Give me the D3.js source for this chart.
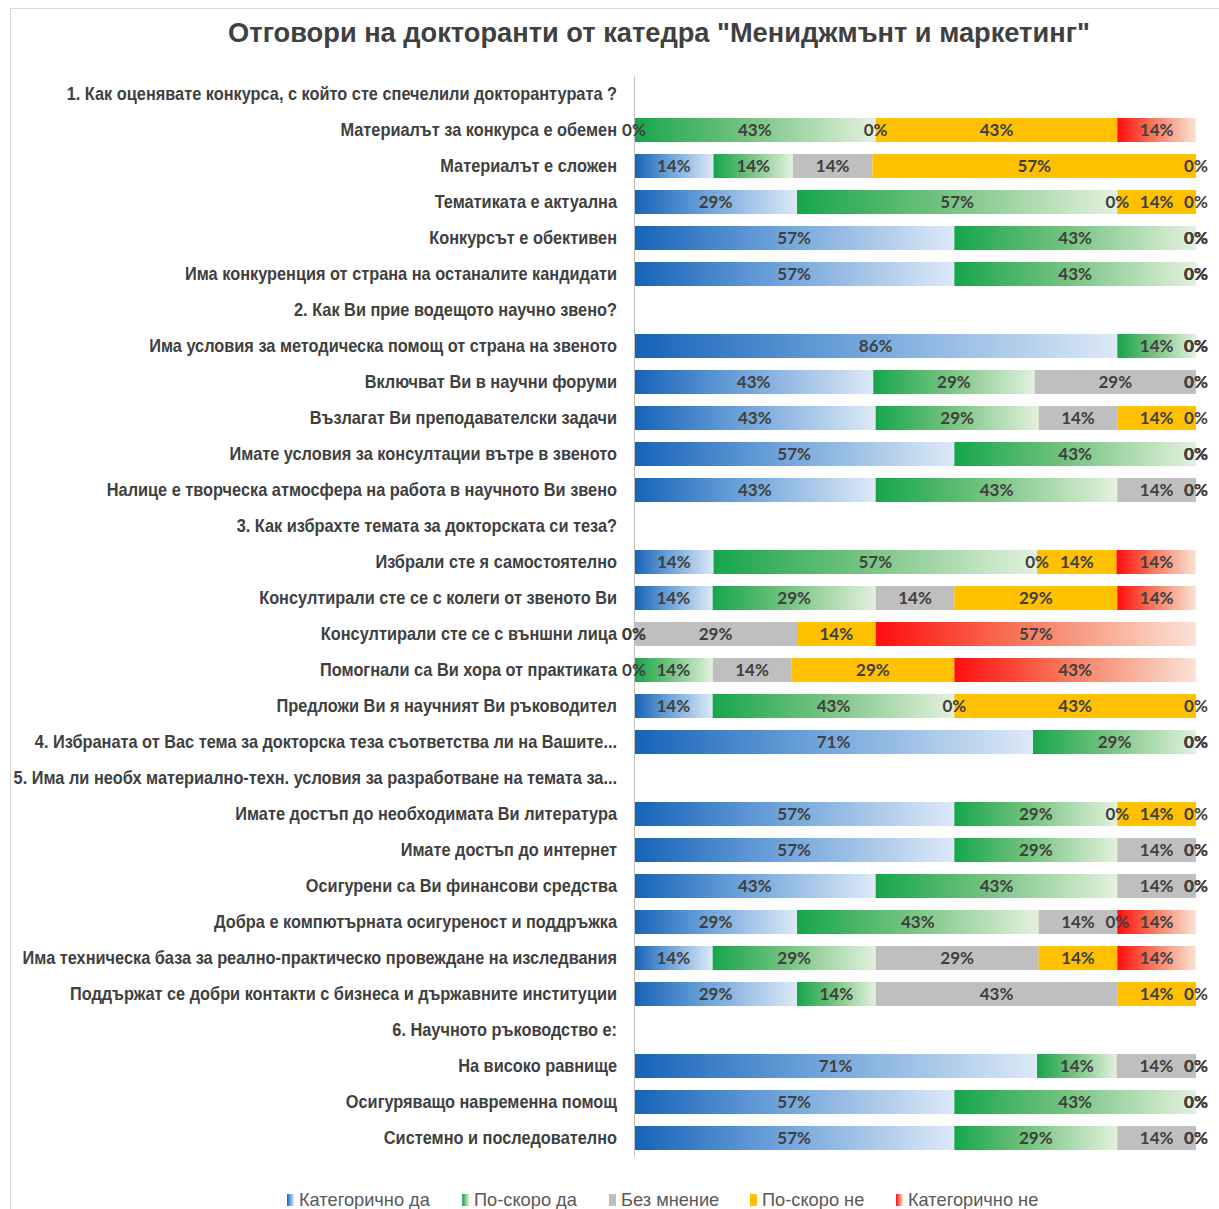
<!DOCTYPE html>
<html>
<head>
<meta charset="utf-8">
<script src="https://cdn.jsdelivr.net/npm/d3@7"></script>
<style>
  html, body { margin: 0; padding: 0; background: #ffffff; }
  svg { display: block; }
</style>
</head>
<body>
<svg id="chart" width="1219" height="1209"></svg>
<script>
const titleText = 'Отговори на докторанти от катедра "Мениджмънт и маркетинг"';

const categories = [
  "1. Как оценявате конкурса, с който сте спечелили докторантурата ?",
  "Материалът за конкурса е обемен",
  "Материалът е сложен",
  "Тематиката е актуална",
  "Конкурсът е обективен",
  "Има конкуренция от страна на останалите кандидати",
  "2. Как Ви прие водещото научно звено?",
  "Има условия за методическа помощ от страна на звеното",
  "Включват Ви в научни форуми",
  "Възлагат Ви преподавателски задачи",
  "Имате условия за консултации вътре в звеното",
  "Налице е творческа атмосфера на работа в научното Ви звено",
  "3. Как избрахте темата за докторската си теза?",
  "Избрали сте я самостоятелно",
  "Консултирали сте се с колеги от звеното Ви",
  "Консултирали  сте се с външни лица",
  "Помогнали са Ви хора от практиката",
  "Предложи Ви я научният Ви ръководител",
  "4. Избраната от Вас тема за докторска теза съответства ли на Вашите...",
  "5. Има ли необх материално-техн. условия за разработване на темата за...",
  "Имате достъп до необходимата Ви литература",
  "Имате достъп до интернет",
  "Осигурени са Ви финансови средства",
  "Добра е компютърната осигуреност и поддръжка",
  "Има техническа база за реално-практическо провеждане на изследвания",
  "Поддържат се добри контакти с бизнеса и държавните институции",
  "6.  Научното ръководство е:",
  "На високо равнище",
  "Осигуряващо навременна помощ",
  "Системно и последователно"
];

const seriesNames = ["Категорично да", "По-скоро да", "Без мнение", "По-скоро не", "Категорично не"];

const katDa     = [null, 0,14,29,57,57, null, 86,43,43,57,43, null, 14,14, 0, 0,14, 71, null, 57,57,43,29,14,29, null, 71,57,57];
const skoroDa   = [null,43,14,57,43,43, null, 14,29,29,43,43, null, 57,29, 0,14,43, 29, null, 29,29,43,43,29,14, null, 14,43,29];
const bezMnenie = [null, 0,14, 0, 0, 0, null,  0,29,14, 0,14, null,  0,14,29,14, 0,  0, null,  0,14,14,14,29,43, null, 14, 0,14];
const skoroNe   = [null,43,57,14, 0, 0, null,  0, 0,14, 0, 0, null, 14,29,14,29,43,  0, null, 14, 0, 0, 0,14,14, null,  0, 0, 0];
const katNe     = [null,14, 0, 0, 0, 0, null,  0, 0, 0, 0, 0, null, 14,14,57,43, 0,  0, null,  0, 0, 0,14,14, 0, null,  0, 0, 0];

const seriesValues = [katDa, skoroDa, bezMnenie, skoroNe, katNe];

const xTicks = [0, 100];

const seriesFills = [
  { stops: [["0%", "#1662b8"], ["45%", "#6ea3da"], ["100%", "#dde9f6"]] },
  { stops: [["0%", "#16a64a"], ["45%", "#73c27f"], ["100%", "#e3f1dd"]] },
  { stops: [["0%", "#bfbfbf"], ["100%", "#bfbfbf"]] },
  { stops: [["0%", "#ffc000"], ["100%", "#ffc000"]] },
  { stops: [["0%", "#ff0d0d"], ["45%", "#f7775a"], ["100%", "#fae3d6"]] }
];

const svg = d3.select("#chart");

svg.append("rect").attr("x", 10.5).attr("y", 8.5).attr("width", 1240).attr("height", 1240)
  .attr("fill", "#ffffff").attr("stroke", "#d9d9d9");

const defs = svg.append("defs");
seriesFills.forEach((f, i) => {
  const g = defs.append("linearGradient").attr("id", "grad" + i)
    .attr("x1", "0%").attr("y1", "0%").attr("x2", "100%").attr("y2", "0%");
  f.stops.forEach(s => g.append("stop").attr("offset", s[0]).attr("stop-color", s[1]));
});

const baseFont = "'Liberation Sans', Arial, sans-serif";

// place text at (px,py) with a horizontal condensing factor sx
function place(sel, px, py, sx) {
  sel.attr("x", 0).attr("y", 0).attr("transform", `translate(${px},${py}) scale(${sx},1)`);
}

// title
const title = svg.append("text")
  .attr("text-anchor", "middle")
  .attr("font-family", baseFont)
  .attr("font-weight", "bold")
  .attr("font-size", 27)
  .attr("fill", "#404040")
  .text(titleText);
const titleSx = 862 / title.node().getComputedTextLength();
place(title, 659, 42, titleSx);

const x = d3.scaleLinear().domain(d3.extent(xTicks)).range([634, 1196]);
const y = d3.scaleBand().domain(d3.range(categories.length)).range([76, 1156]).paddingInner(0.333).paddingOuter(0.1665);

const rows = categories.map((c, i) => {
  const vals = seriesValues.map(s => s[i]);
  if (vals[0] === null) return null;
  const total = d3.sum(vals);
  let acc = 0;
  return vals.map((v, k) => {
    const x0 = acc / total * 100;
    acc += v;
    const x1 = acc / total * 100;
    return { row: i, series: k, value: v, x0, x1 };
  });
});
const segs = rows.filter(r => r).flat();

svg.append("g").selectAll("rect").data(segs.filter(d => d.value > 0)).join("rect")
  .attr("x", d => x(d.x0))
  .attr("y", d => y(d.row))
  .attr("width", d => x(d.x1) - x(d.x0))
  .attr("height", y.bandwidth())
  .attr("fill", d => `url(#grad${d.series})`);

// axis
const axis = d3.axisLeft(y).tickSize(0).tickPadding(17).tickFormat(i => categories[i]);
const gAxis = svg.append("g").attr("transform", "translate(634,0)").call(axis);
gAxis.select(".domain").attr("stroke", "#bfbfbf").attr("stroke-width", 1);
const tickTexts = gAxis.selectAll(".tick text")
  .attr("font-family", baseFont)
  .attr("font-weight", "bold")
  .attr("font-size", 18)
  .attr("fill", "#404040")
  .attr("dy", "0.35em");
const longest = d3.max(tickTexts.nodes(), n => n.textContent === categories[24] ? n.getComputedTextLength() : 0);
const labelSx = 595 / longest;
tickTexts.each(function() { place(d3.select(this), -17, 0, labelSx); });

// data labels
svg.append("g").selectAll("text").data(segs).join("text")
  .attr("x", d => x((d.x0 + d.x1) / 2))
  .attr("y", d => y(d.row) + y.bandwidth() / 2)
  .attr("dy", "0.35em")
  .attr("text-anchor", "middle")
  .attr("font-family", "Lato, 'Open Sans', sans-serif")
  .attr("font-weight", "bold")
  .attr("font-size", 17)
  .attr("fill", "#404040")
  .text(d => d.value + "%");

// legend
const legendX = [287, 462, 609, 750, 896];
const lg = svg.append("g").selectAll("g").data(seriesNames).join("g")
  .attr("transform", (d, i) => `translate(${legendX[i]},1200)`);
lg.append("rect").attr("x", 0).attr("y", -6).attr("width", 7).attr("height", 12)
  .attr("fill", (d, i) => `url(#grad${i})`);
const legTexts = lg.append("text")
  .attr("font-family", baseFont)
  .attr("font-size", 18)
  .attr("fill", "#595959")
  .attr("dy", "0.35em")
  .text(d => d);
const legSx = 131 / legTexts.nodes()[0].getComputedTextLength();
legTexts.each(function() { place(d3.select(this), 12, 0, legSx); });
</script>
</body>
</html>
